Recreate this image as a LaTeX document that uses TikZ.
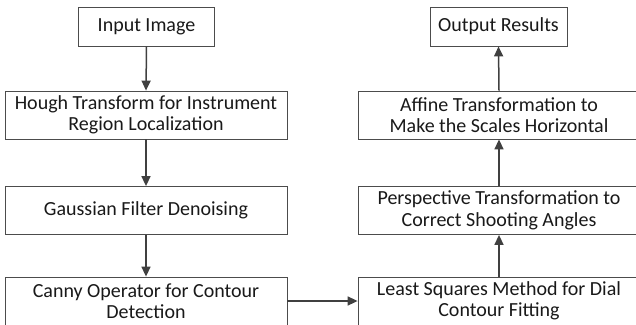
\documentclass[tikz,border=0pt]{standalone}
\usepackage{fontspec}
\setmainfont{Carlito}
\usetikzlibrary{arrows.meta}
\begin{document}
\begin{tikzpicture}[x=1pt,y=-1pt,
  box/.style={draw=black!70,line width=0.8pt,fill=white,inner sep=0pt,align=center,
    font=\fontsize{20}{21.5}\selectfont,text=black!90},
  wide/.style={box,minimum width=282pt,minimum height=48pt},
  small/.style={box,minimum width=136pt,minimum height=39pt},
  arr/.style={draw=black!75,line width=1.5pt,-{Triangle[length=10pt,width=9pt]}}]
\useasboundingbox (0,0) rectangle (636,324);
\begin{scope}
\clip (0,0) rectangle (636,324);
\node[small] (in) at (146.5,26.5) {Input Image};
\node[wide] (hough) at (146,115) {Hough Transform for Instrument\\Region Localization};
\node[wide] (gauss) at (146,210.5) {Gaussian Filter Denoising};
\node[wide] (canny) at (146,301) {Canny Operator for Contour\\Detection};
\node[small,minimum width=137pt] (out) at (498.5,26.5) {Output Results};
\node[wide] (affine) at (499,115) {Affine Transformation to\\Make the Scales Horizontal};
\node[wide] (persp) at (499,210.5) {Perspective Transformation to\\Correct Shooting Angles};
\node[wide] (least) at (499,301) {Least Squares Method for Dial\\Contour Fitting};
\draw[arr] (in.south) -- (hough.north);
\draw[arr] (hough.south) -- (gauss.north);
\draw[arr] (gauss.south) -- (canny.north);
\draw[arr] (canny.east) -- (least.west);
\draw[arr] (least.north) -- (persp.south);
\draw[arr] (persp.north) -- (affine.south);
\draw[arr] (affine.north) -- (out.south);
\end{scope}
\end{tikzpicture}
\end{document}
